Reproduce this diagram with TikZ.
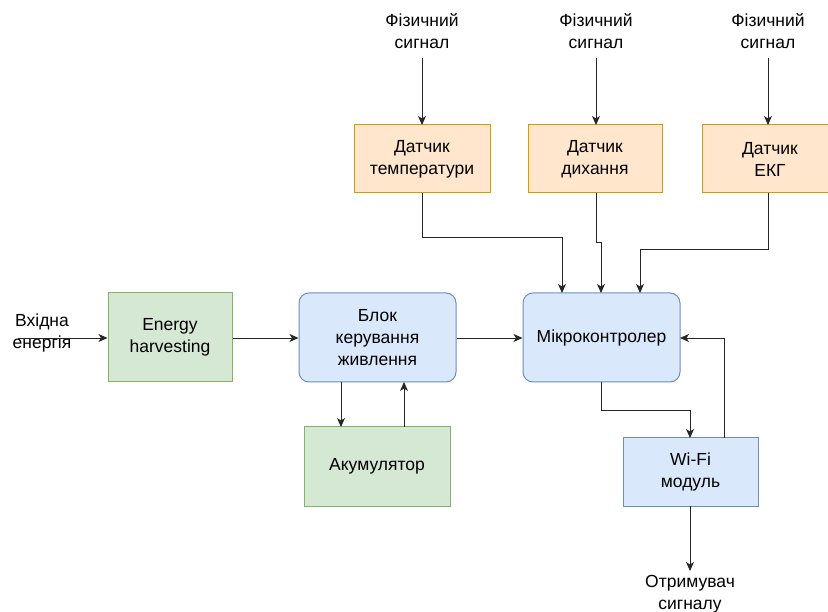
\documentclass[tikz,border=0pt]{standalone}
\usepackage{fontspec}
\setmainfont{Liberation Sans}
\usetikzlibrary{arrows.meta}
\definecolor{gfill}{HTML}{D5E8D4}\definecolor{gdraw}{HTML}{82B366}
\definecolor{bfill}{HTML}{DAE8FC}\definecolor{bdraw}{HTML}{6C8EBF}
\definecolor{ofill}{HTML}{FFE6CC}\definecolor{odraw}{HTML}{D79B00}
\begin{document}
\begin{tikzpicture}[x=1pt,y=-1pt,
  font=\fontsize{17.5}{22}\selectfont,
  box/.style={draw, line width=1pt, align=center, inner sep=0pt},
  green/.style={box, fill=gfill, draw=gdraw},
  blue/.style={box, fill=bfill, draw=bdraw},
  rblue/.style={blue, rounded corners=10pt},
  orange/.style={box, fill=ofill, draw=odraw},
  lbl/.style={align=center, inner sep=0pt},
  conn/.style={draw=black!85, line width=0.9pt, -{Stealth[length=9pt,width=8pt,inset=2.5pt]}}]
\useasboundingbox (0,0) rectangle (828,612);
% boxes
\node[green, minimum width=124pt, minimum height=89pt] (eh) at (170,337.5) {Energy\\harvesting};
\node[rblue, minimum width=157pt, minimum height=89pt] (pm) at (377.5,337.5) {Блок\\керування\\живлення};
\node[rblue, minimum width=157pt, minimum height=89pt] (mcu) at (601.5,337.5) {Мікроконтролер};
\node[green, minimum width=146pt, minimum height=79pt] (acc) at (377,466.5) {Акумулятор};
\node[blue, minimum width=135pt, minimum height=68pt] (wifi) at (690.5,472) {Wi-Fi\\модуль};
\node[orange, minimum width=136pt, minimum height=68pt] (st) at (422,159) {Датчик\\температури};
\node[orange, minimum width=134pt, minimum height=68pt] (sb) at (595,159) {Датчик\\дихання};
\node[orange, minimum width=136pt, minimum height=68pt] (se) at (770,159) {Датчик\\ЕКГ};
% labels
\node[lbl] (f1) at (422,31) {Фізичний\\сигнал};
\node[lbl] (f2) at (596,31) {Фізичний\\сигнал};
\node[lbl] (f3) at (768,31) {Фізичний\\сигнал};
\node[lbl] (inp) at (42,333) {Вхідна\\енергія};
\node[lbl] (out) at (690,594) {Отримувач\\сигналу};
% coordinates
\coordinate (c1) at (422,58);
\coordinate (c2) at (596,58);
\coordinate (c3) at (768,58);
\coordinate (ci) at (18,338);
\coordinate (co) at (690,571);
% connectors
\draw[conn] (c1) -- (422,125);
\draw[conn] (c2) -- (596,125);
\draw[conn] (c3) -- (768,125);
\draw[conn] (ci) -- (eh.west |- ci);
\draw[conn] (eh.east |- ci) -- (pm.west |- ci);
\draw[conn] (pm.east |- ci) -- (mcu.west |- ci);
\draw[conn] (422,193) -- (422,237) -- (562,237) -- (562,293);
\draw[conn] (596,193) -- (596,242) -- (601,242) -- (601,293);
\draw[conn] (768,193) -- (768,249) -- (640,249) -- (640,293);
\draw[conn] (341,382) -- (341,427);
\draw[conn] (404,427) -- (404,382);
\draw[conn] (601,382) -- (601,410) -- (690,410) -- (690,438);
\draw[conn] (724,438) -- (724,338) -- (680,338);
\draw[conn] (690,506) -- (co);
\end{tikzpicture}
\end{document}
